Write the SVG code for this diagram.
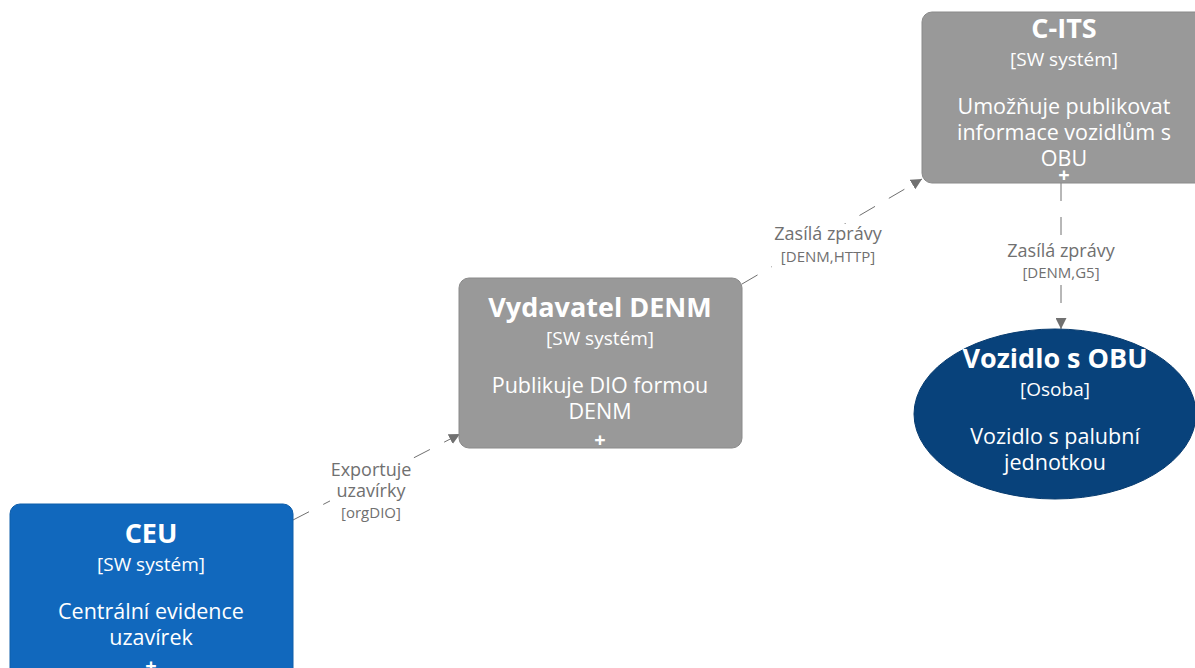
<svg xmlns="http://www.w3.org/2000/svg" width="1195" height="668" viewBox="0 0 1195 668">
<style>
text{font-family:"Open Sans","Noto Sans","Liberation Sans",sans-serif;text-anchor:middle;fill:#ffffff}
.t{font-size:27px;font-weight:bold}
.s{font-size:19px}
.d{font-size:21.5px}
.p{font-size:20px;font-weight:bold}
.lbl{font-size:18px;fill:#707070}
.tech{font-size:15px;fill:#707070}
.bg{fill:#ffffff}
.ln{stroke:#707070;stroke-width:1;fill:none;stroke-dasharray:18 16}
</style>
<defs>
<marker id="arr" viewBox="0 0 10 10" refX="10" refY="5" markerWidth="11" markerHeight="11" markerUnits="userSpaceOnUse" orient="auto">
<path d="M0,0 L10,5 L0,10 z" fill="#707070"/>
</marker>
</defs>
<rect width="1195" height="668" fill="#ffffff"/>
<g id="connectors">
<line class="ln" x1="293" y1="520" x2="460" y2="434" marker-end="url(#arr)"/>
<rect class="bg" x="330" y="459" width="82" height="64"/>
<text class="lbl" x="371" y="476">Exportuje</text>
<text class="lbl" x="371" y="497">uzavírky</text>
<text class="tech" x="371" y="518">[orgDIO]</text>
<line class="ln" x1="742" y1="284" x2="922" y2="179" marker-end="url(#arr)"/>
<rect class="bg" x="772" y="224" width="112" height="43"/>
<text class="lbl" x="828" y="240">Zasílá zprávy</text>
<text class="tech" x="828" y="262">[DENM,HTTP]</text>
<line class="ln" x1="1061" y1="183" x2="1061" y2="329" marker-end="url(#arr)"/>
<rect class="bg" x="1005" y="240" width="112" height="44"/>
<text class="lbl" x="1061" y="257">Zasílá zprávy</text>
<text class="tech" x="1061" y="278">[DENM,G5]</text>
</g>
<g id="ceu">
<rect x="10" y="504" width="283" height="180" rx="10" fill="#1168BD" stroke="#0F5EAA"/>
<text class="t" x="151" y="543">CEU</text>
<text class="s" x="151" y="571">[SW systém]</text>
<text class="d" x="151" y="619">Centrální evidence</text>
<text class="d" x="151" y="645">uzavírek</text>
<text class="p" x="151" y="673">+</text>
</g>
<g id="vydavatel">
<rect x="459" y="278" width="283" height="170" rx="10" fill="#999999" stroke="#8A8A8A"/>
<text class="t" x="600" y="317">Vydavatel DENM</text>
<text class="s" x="600" y="345">[SW systém]</text>
<text class="d" x="600" y="393">Publikuje DIO formou</text>
<text class="d" x="600" y="419">DENM</text>
<text class="p" x="600" y="447">+</text>
</g>
<g id="cits">
<rect x="922" y="12" width="290" height="171" rx="10" fill="#999999" stroke="#8A8A8A"/>
<text class="t" x="1064" y="38">C-ITS</text>
<text class="s" x="1064" y="66">[SW systém]</text>
<text class="d" x="1064" y="114">Umožňuje publikovat</text>
<text class="d" x="1064" y="140">informace vozidlům s</text>
<text class="d" x="1064" y="166">OBU</text>
<text class="p" x="1064" y="182">+</text>
</g>
<g id="vozidlo">
<ellipse cx="1055" cy="414" rx="141" ry="85" fill="#08427B" stroke="#073B6F"/>
<text class="t" x="1055" y="368">Vozidlo s OBU</text>
<text class="s" x="1055" y="396">[Osoba]</text>
<text class="d" x="1055" y="444">Vozidlo s palubní</text>
<text class="d" x="1055" y="470">jednotkou</text>
</g>
</svg>
